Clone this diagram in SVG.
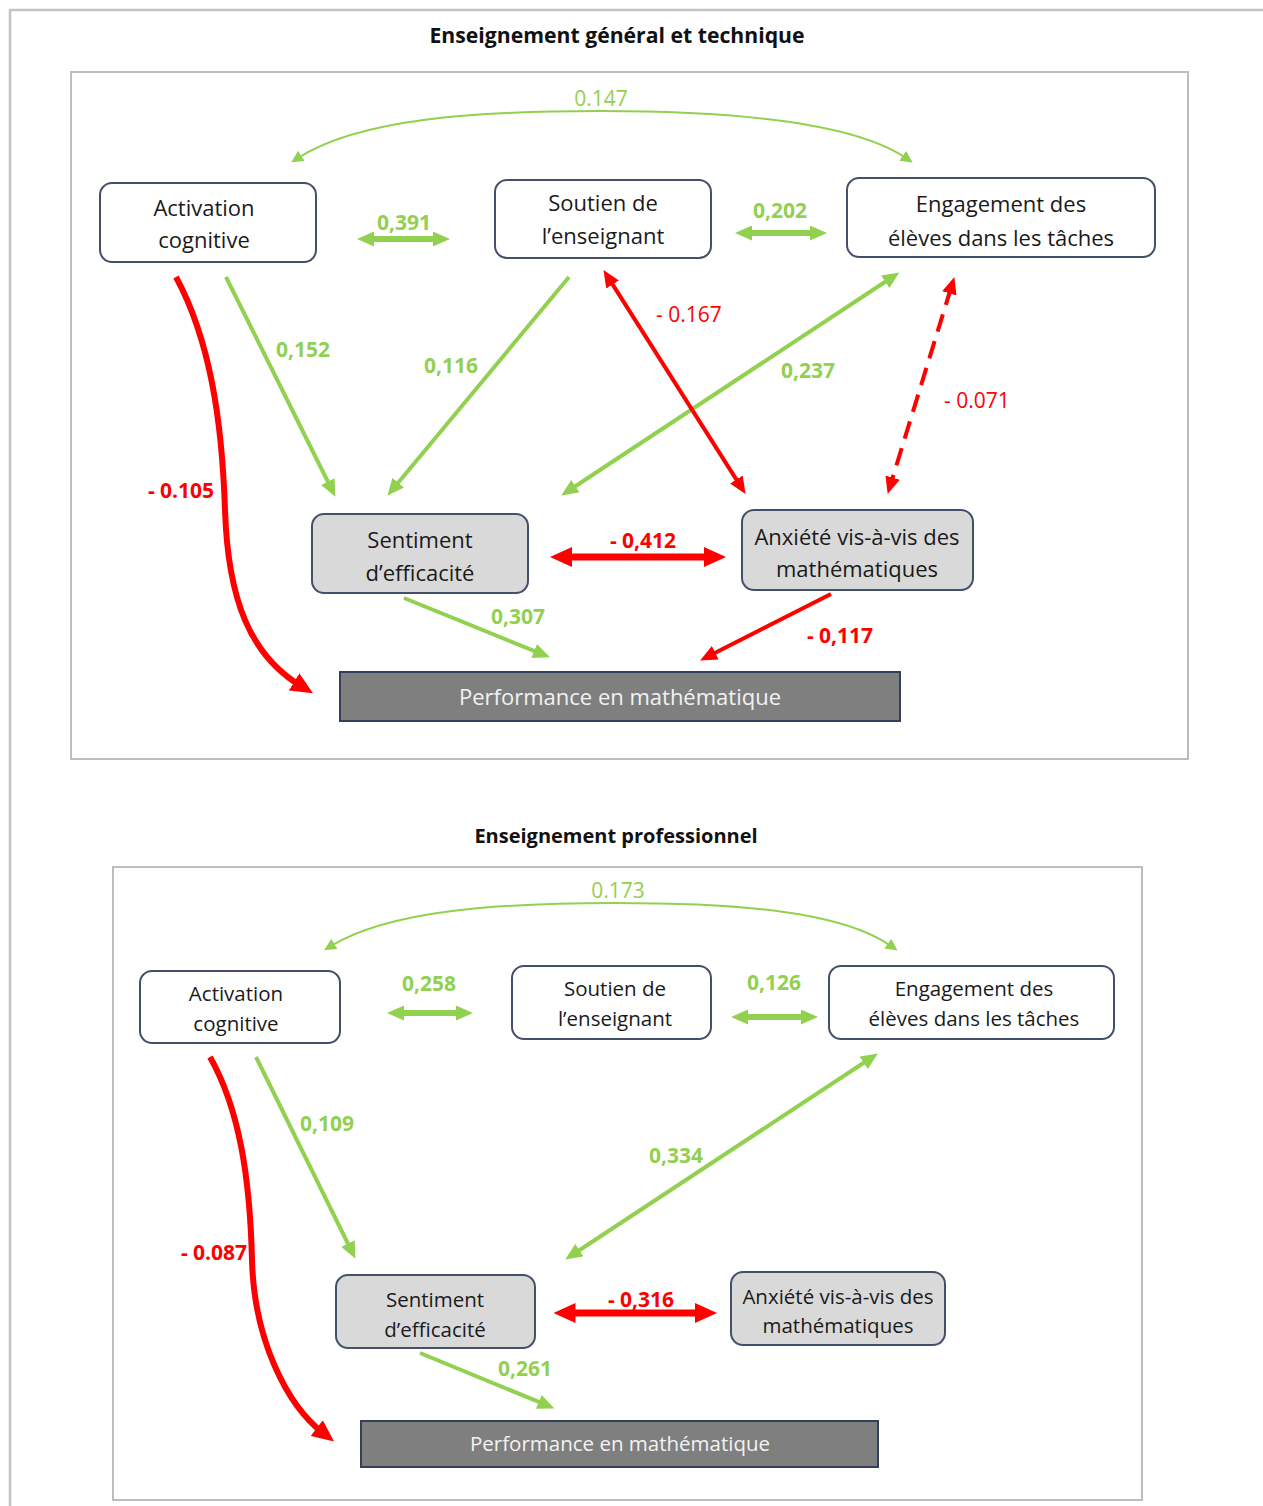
<svg xmlns="http://www.w3.org/2000/svg" width="1263" height="1506" viewBox="0 0 1263 1506">
<style>
.frame{fill:none;stroke:#c3c3c3;stroke-width:2.5}
.panel{fill:none;stroke:#bdbdbd;stroke-width:2}
.title{font-family:"Open Sans","Liberation Sans",sans-serif;font-weight:bold;font-size:20px;fill:#111;text-anchor:middle}
.title1{font-size:21.2px}
.nw{fill:#fff;stroke:#44506b;stroke-width:2}
.ng{fill:#d9d9d9;stroke:#44506b;stroke-width:2}
.np{fill:#7f7f7f;stroke:#34405a;stroke-width:2}
.t1{font-family:"Open Sans","Liberation Sans",sans-serif;font-size:22px;fill:#1a1a1a;text-anchor:middle}
.t2{font-family:"Open Sans","Liberation Sans",sans-serif;font-size:20.5px;fill:#1a1a1a;text-anchor:middle}
.tp1{font-family:"Open Sans","Liberation Sans",sans-serif;font-size:22px;fill:#f2f2f2;text-anchor:middle}
.tp2{font-family:"Open Sans","Liberation Sans",sans-serif;font-size:20.5px;fill:#f2f2f2;text-anchor:middle}
.g{fill:none;stroke:#92d050;stroke-width:4}
.gthin{fill:none;stroke:#92d050;stroke-width:2}
.gthick{fill:none;stroke:#92d050;stroke-width:6}
.r{fill:none;stroke:#ff0000;stroke-width:4}
.rthick{fill:none;stroke:#ff0000;stroke-width:6}
.rx{stroke-width:7}
.rdash{fill:none;stroke:#ff0000;stroke-width:4;stroke-dasharray:18 10}
.lg{font-family:"Open Sans","Liberation Sans",sans-serif;font-weight:bold;font-size:21px;fill:#92d050;text-anchor:middle}
.lgr{font-family:"Open Sans","Liberation Sans",sans-serif;font-size:21px;fill:#92d050;text-anchor:middle}
.lr{font-family:"Open Sans","Liberation Sans",sans-serif;font-weight:bold;font-size:21px;fill:#ff0000;text-anchor:middle}
.lrr{font-family:"Open Sans","Liberation Sans",sans-serif;font-size:21px;fill:#ff0000;text-anchor:middle}
</style>
<defs>
<marker id="ga" markerUnits="userSpaceOnUse" markerWidth="17" markerHeight="15" refX="6" refY="7.5" orient="auto-start-reverse"><path d="M0,0 L17,7.5 L0,15 z" fill="#92d050"/></marker>
<marker id="gt" markerUnits="userSpaceOnUse" markerWidth="12" markerHeight="12" refX="4" refY="6" orient="auto-start-reverse"><path d="M0,0 L12,6 L0,12 z" fill="#92d050"/></marker>
<marker id="ra" markerUnits="userSpaceOnUse" markerWidth="17" markerHeight="15" refX="6" refY="7.5" orient="auto-start-reverse"><path d="M0,0 L17,7.5 L0,15 z" fill="#ff0000"/></marker>
<marker id="rb" markerUnits="userSpaceOnUse" markerWidth="22" markerHeight="20" refX="8" refY="10" orient="auto-start-reverse"><path d="M0,0 L22,10 L0,20 z" fill="#ff0000"/></marker>
</defs>
<rect width="1263" height="1506" fill="#ffffff"/>
<path class="frame" d="M10,1506 V10 H1263"/>

<!-- Top panel -->
<g id="panel-top">
<text class="title title1" x="617" y="43">Enseignement général et technique</text>
<rect class="panel" x="71" y="72" width="1117" height="687"/>
</g>

<g id="top-connectors">
<path class="gthin" d="M298,158 C360,118 480,111 600,111 C720,111 850,120 906,158" marker-start="url(#gt)" marker-end="url(#gt)"/>
<line class="gthick" x1="368" y1="239" x2="439" y2="239" marker-start="url(#ga)" marker-end="url(#ga)"/>
<line class="gthick" x1="746" y1="233" x2="816" y2="233" marker-start="url(#ga)" marker-end="url(#ga)"/>
<line class="g" x1="226" y1="277" x2="330.5" y2="487" marker-end="url(#ga)"/>
<line class="g" x1="569" y1="277" x2="394.4" y2="487.3" marker-end="url(#ga)"/>
<line class="g" x1="890.2" y1="278.5" x2="570.4" y2="489.5" marker-start="url(#ga)" marker-end="url(#ga)"/>
<line class="r" x1="609.4" y1="279.4" x2="739.6" y2="484.6" marker-start="url(#ra)" marker-end="url(#ra)"/>
<line class="rdash" x1="951.1" y1="287.6" x2="890.9" y2="483.4" marker-start="url(#ra)" marker-end="url(#ra)"/>
<line class="rthick rx" x1="564" y1="557" x2="712" y2="557" marker-start="url(#rb)" marker-end="url(#rb)"/>
<line class="g" x1="404" y1="598" x2="539.7" y2="653.2" marker-end="url(#ga)"/>
<line class="r" x1="831" y1="594" x2="709.9" y2="655.5" marker-end="url(#ra)"/>
<path class="rthick" d="M176,277 C210,340 222,420 225,510 C228,600 250,655 301,686" marker-end="url(#rb)"/>
<text class="lgr" x="601" y="106">0.147</text>
<text class="lg" x="404" y="230">0,391</text>
<text class="lg" x="780" y="218">0,202</text>
<text class="lg" x="303" y="357">0,152</text>
<text class="lg" x="451" y="373">0,116</text>
<text class="lg" x="808" y="378">0,237</text>
<text class="lrr" x="689" y="322">- 0.167</text>
<text class="lrr" x="977" y="408">- 0.071</text>
<text class="lr" x="181" y="498">- 0.105</text>
<text class="lr" x="643" y="548">- 0,412</text>
<text class="lg" x="518" y="624">0,307</text>
<text class="lr" x="840" y="643">- 0,117</text>
</g>

<g id="t-activation">
<rect class="nw" x="100" y="183" width="216" height="79" rx="12"/>
<text class="t1" x="204" y="216">Activation</text>
<text class="t1" x="204" y="248">cognitive</text>
</g>
<g id="t-soutien">
<rect class="nw" x="495" y="180" width="216" height="78" rx="12"/>
<text class="t1" x="603" y="211">Soutien de</text>
<text class="t1" x="603" y="244">l’enseignant</text>
</g>
<g id="t-engagement">
<rect class="nw" x="847" y="178" width="308" height="79" rx="12"/>
<text class="t1" x="1001" y="212">Engagement des</text>
<text class="t1" x="1001" y="246">élèves dans les tâches</text>
</g>
<g id="t-sentiment">
<rect class="ng" x="312" y="514" width="216" height="79" rx="12"/>
<text class="t1" x="420" y="548">Sentiment</text>
<text class="t1" x="420" y="581">d’efficacité</text>
</g>
<g id="t-anxiete">
<rect class="ng" x="742" y="510" width="231" height="80" rx="12"/>
<text class="t1" x="857" y="545">Anxiété vis-à-vis des</text>
<text class="t1" x="857" y="577">mathématiques</text>
</g>
<g id="t-performance">
<rect class="np" x="340" y="672" width="560" height="49"/>
<text class="tp1" x="620" y="705">Performance en mathématique</text>
</g>

<!-- Bottom panel -->
<g id="panel-bottom">
<text class="title" x="616" y="843">Enseignement professionnel</text>
<rect class="panel" x="113" y="867" width="1029" height="633"/>
</g>

<g id="bottom-connectors">
<path class="gthin" d="M331,946 C390,910 500,903 615,903 C730,903 840,910 891,946" marker-start="url(#gt)" marker-end="url(#gt)"/>
<line class="gthick" x1="398" y1="1013" x2="462" y2="1013" marker-start="url(#ga)" marker-end="url(#ga)"/>
<line class="gthick" x1="742" y1="1017" x2="807" y2="1017" marker-start="url(#ga)" marker-end="url(#ga)"/>
<line class="g" x1="256" y1="1057" x2="350.6" y2="1249" marker-end="url(#ga)"/>
<path class="rthick" d="M210,1057 C240,1110 250,1180 252,1260 C254,1340 287,1405 323,1433" marker-end="url(#rb)"/>
<line class="g" x1="868.7" y1="1059.5" x2="574.4" y2="1253.5" marker-start="url(#ga)" marker-end="url(#ga)"/>
<line class="rthick rx" x1="567.5" y1="1313" x2="703" y2="1313" marker-start="url(#rb)" marker-end="url(#rb)"/>
<line class="g" x1="420" y1="1353" x2="544.3" y2="1404.2" marker-end="url(#ga)"/>
<text class="lgr" x="618" y="898">0.173</text>
<text class="lg" x="429" y="991">0,258</text>
<text class="lg" x="774" y="990">0,126</text>
<text class="lg" x="327" y="1131">0,109</text>
<text class="lr" x="214" y="1260">- 0.087</text>
<text class="lg" x="676" y="1163">0,334</text>
<text class="lr" x="641" y="1307">- 0,316</text>
<text class="lg" x="525" y="1376">0,261</text>
</g>

<g id="b-activation">
<rect class="nw" x="140" y="971" width="200" height="72" rx="12"/>
<text class="t2" x="236" y="1001">Activation</text>
<text class="t2" x="236" y="1031">cognitive</text>
</g>
<g id="b-soutien">
<rect class="nw" x="512" y="966" width="199" height="73" rx="12"/>
<text class="t2" x="615" y="996">Soutien de</text>
<text class="t2" x="615" y="1026">l’enseignant</text>
</g>
<g id="b-engagement">
<rect class="nw" x="829" y="966" width="285" height="73" rx="12"/>
<text class="t2" x="974" y="996">Engagement des</text>
<text class="t2" x="974" y="1026">élèves dans les tâches</text>
</g>
<g id="b-sentiment">
<rect class="ng" x="336" y="1275" width="199" height="73" rx="12"/>
<text class="t2" x="435" y="1307">Sentiment</text>
<text class="t2" x="435" y="1337">d’efficacité</text>
</g>
<g id="b-anxiete">
<rect class="ng" x="731" y="1272" width="214" height="73" rx="12"/>
<text class="t2" x="838" y="1304">Anxiété vis-à-vis des</text>
<text class="t2" x="838" y="1333">mathématiques</text>
</g>
<g id="b-performance">
<rect class="np" x="361" y="1421" width="517" height="46"/>
<text class="tp2" x="620" y="1451">Performance en mathématique</text>
</g>
</svg>
